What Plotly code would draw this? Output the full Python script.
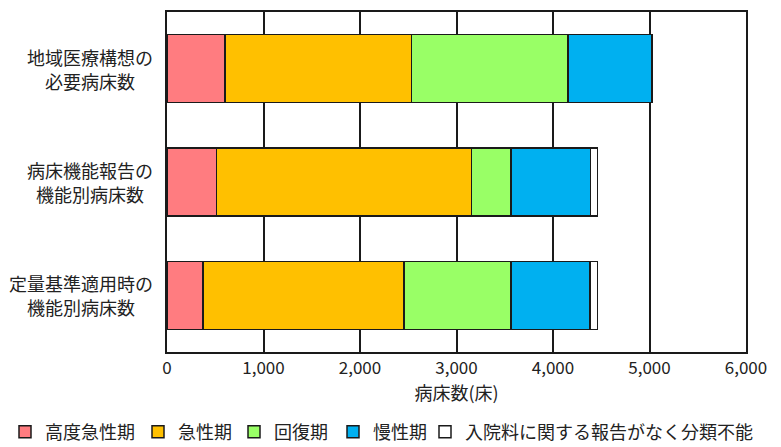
import plotly.graph_objects as go

categories = ["地域医療構想の<br>必要病床数", "病床機能報告の<br>機能別病床数", "定量基準適用時の<br>機能別病床数"]
series_names = ["高度急性期", "急性期", "回復期", "慢性期", "入院料に関する報告がなく分類不能"]
high_acute = [601, 515, 373]
acute = [1935, 2642, 2083]
recovery = [1619, 408, 1109]
chronic = [871, 825, 818]
unclassified = [0, 73, 80]
colors = ["#FF7C80", "#FFC000", "#99FF66", "#00B0F0", "#FFFFFF"]
x_ticks = [0, 1000, 2000, 3000, 4000, 5000, 6000]
x_tick_labels = ["0", "1,000", "2,000", "3,000", "4,000", "5,000", "6,000"]

FONT = "Noto Sans CJK JP"
W, H = 781, 447
ML, MR, MT, MB = 167, 35, 10, 95
PW = W - ML - MR

# legend text start positions (px) in the reference
legend_text_x = [45, 178, 274, 373, 465]
legend_names = ["legend", "legend2", "legend3", "legend4", "legend5"]

fig = go.Figure()
for name, vals, col, lg in zip(series_names, [high_acute, acute, recovery, chronic, unclassified], colors, legend_names):
    fig.add_trace(go.Bar(
        y=categories, x=vals, name=name, orientation="h",
        marker=dict(color=col, line=dict(color="#1a1a1a", width=1.5)),
        width=0.6, legend=lg,
    ))

# category labels: two centred lines each
LBL_FS = 18
for c in categories:
    lines = c.split("<br>")
    maxlen = max(len(l) for l in lines)
    xc = 153 - maxlen * LBL_FS / 2
    for i, line in enumerate(lines):
        fig.add_annotation(
            x=(xc - ML) / PW, xref="paper", y=c, yref="y", text=line, showarrow=False,
            xanchor="center", yanchor="middle", yshift=12 - 24 * i,
            font=dict(family=FONT, size=LBL_FS, color="#222"),
        )

legend_layouts = {}
for lg, tx in zip(legend_names, legend_text_x):
    legend_layouts[lg] = dict(
        orientation="h", xref="container", x=(tx - 40) / W, xanchor="left",
        yref="container", y=1 - 432 / H, yanchor="middle",
        font=dict(family=FONT, size=18, color="#222"),
        bgcolor="rgba(0,0,0,0)", borderwidth=0, itemwidth=30,
    )

fig.update_layout(
    barmode="stack",
    width=W, height=H,
    margin=dict(l=ML, r=MR, t=MT, b=MB),
    paper_bgcolor="white", plot_bgcolor="white",
    font=dict(family=FONT, size=17, color="#222"),
    showlegend=True,
    xaxis=dict(range=[0, 6000], tickvals=x_ticks, ticktext=x_tick_labels,
               showgrid=True, gridcolor="#1a1a1a", gridwidth=1.5,
               showline=True, linecolor="#1a1a1a", linewidth=1.5, mirror=True,
               zeroline=False, ticks="", ticklen=0,
               title=dict(text="病床数(床)", font=dict(family=FONT, size=18), standoff=4),
               tickfont=dict(family=FONT, size=17)),
    yaxis=dict(autorange="reversed", showticklabels=False, showgrid=False,
               showline=True, linecolor="#1a1a1a", linewidth=1.5, mirror=True,
               ticks=""),
    **legend_layouts,
)

fig.write_html("out.html")
